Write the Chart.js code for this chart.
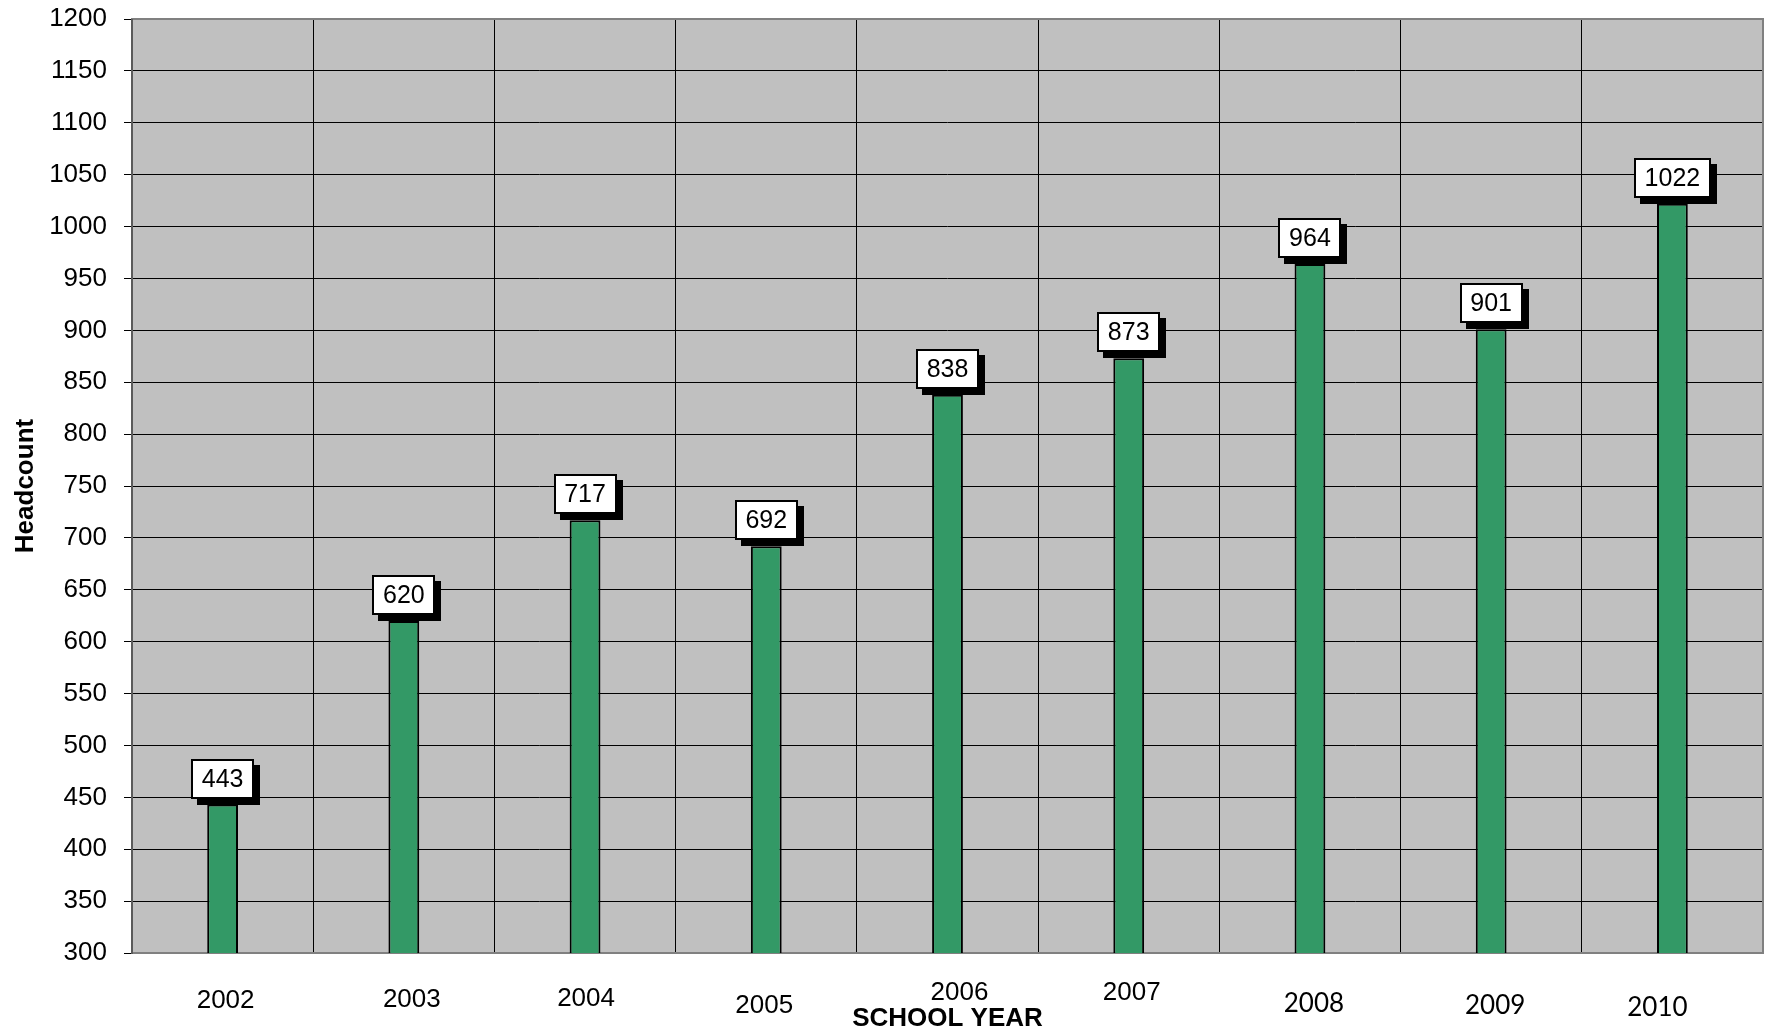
<!DOCTYPE html>
<html>
<head>
<meta charset="utf-8">
<script src="https://cdn.jsdelivr.net/npm/chart.js@4.4.1/dist/chart.umd.min.js"></script>
<style>
html,body{margin:0;padding:0;background:#ffffff;}
#wrap{width:1765px;height:1034px;}
canvas{display:block;}
</style>
</head>
<body>
<div id="wrap"><canvas id="c" width="1765" height="1034"></canvas></div>
<script>
// ---- data ----
const categories = ['2002','2003','2004','2005','2006','2007','2008','2009','2010'];
const headcount = [443, 620, 717, 692, 838, 873, 964, 901, 1022];
const yMin = 300;
const yMax = 1200;
const yStep = 50;
const xTitle = 'SCHOOL YEAR';
const yTitle = 'Headcount';

// ---- style (label nudges as drawn in the original) ----
const yearNudgeX = [3, 8, 1, -2, 12, 3, 4, 4, -15];
const yearBaseline = [55, 54, 53, 60, 47, 47, 59, 61, 63];
const yearFonts = ['arial','arial','arial','arial','arial','arial','lato','lato','lato'];

const ARIAL = '"Liberation Sans", Arial, sans-serif';

const plotBg = {
  id: 'plotBg',
  beforeDraw(chart) {
    const {ctx, chartArea: a} = chart;
    ctx.save();
    ctx.fillStyle = '#C0C0C0';
    ctx.fillRect(a.left, a.top, a.right - a.left, a.bottom - a.top);
    ctx.restore();
  }
};

const plotFrame = {
  id: 'plotFrame',
  beforeDatasetsDraw(chart) {
    const {ctx, chartArea: a} = chart;
    ctx.save();
    ctx.strokeStyle = '#808080';
    ctx.lineWidth = 2;
    ctx.strokeRect(a.left, a.top, a.right - a.left, a.bottom - a.top);
    ctx.strokeStyle = '#5a5a5a';
    ctx.beginPath();
    ctx.moveTo(a.left, a.top);
    ctx.lineTo(a.left, a.bottom + 1);
    ctx.stroke();
    ctx.restore();
  }
};

const valueBoxes = {
  id: 'valueBoxes',
  afterDatasetsDraw(chart) {
    const {ctx} = chart;
    const meta = chart.getDatasetMeta(0);
    ctx.save();
    ctx.font = '25px ' + ARIAL;
    meta.data.forEach((bar, i) => {
      const txt = String(chart.data.datasets[0].data[i]);
      const tw = ctx.measureText(txt).width;
      const w = Math.round(tw + 21);
      const h = 40;
      const x0 = Math.round(bar.x - w / 2);
      const y1 = Math.round(bar.y - 6);
      const y0 = y1 - h;
      ctx.fillStyle = '#000';
      ctx.fillRect(x0 + 6, y0 + 6, w, h);
      ctx.fillStyle = '#fff';
      ctx.fillRect(x0, y0, w, h);
      ctx.lineWidth = 2;
      ctx.strokeStyle = '#000';
      ctx.strokeRect(x0 + 1, y0 + 1, w - 2, h - 2);
      ctx.fillStyle = '#000';
      ctx.textAlign = 'center';
      ctx.textBaseline = 'middle';
      ctx.fillText(txt, bar.x, y0 + h / 2 + 1);
    });
    ctx.restore();
  }
};

const yearLabels = {
  id: 'yearLabels',
  afterDraw(chart) {
    const {ctx, chartArea: a} = chart;
    const xs = chart.scales.x;
    ctx.save();
    ctx.fillStyle = '#000';
    ctx.textAlign = 'center';
    ctx.textBaseline = 'alphabetic';
    chart.data.labels.forEach((lab, i) => {
      ctx.font = yearFonts[i] === 'lato' ? '26px Lato, sans-serif' : '26px ' + ARIAL;
      const x = xs.getPixelForValue(i) + yearNudgeX[i];
      ctx.fillText(lab, x, a.bottom + yearBaseline[i]);
    });
    ctx.restore();
  }
};

new Chart(document.getElementById('c'), {
  type: 'bar',
  data: {
    labels: categories,
    datasets: [{
      label: yTitle,
      data: headcount,
      backgroundColor: '#339966',
      borderColor: '#000000',
      borderWidth: 2,
      borderSkipped: false,
      barPercentage: 0.17,
      categoryPercentage: 1.0
    }]
  },
  options: {
    responsive: false,
    devicePixelRatio: 1,
    animation: false,
    layout: { padding: { left: 0, right: 2, top: 19, bottom: 0 } },
    plugins: {
      legend: { display: false },
      tooltip: { enabled: false },
      title: { display: false }
    },
    scales: {
      x: {
        offset: true,
        grid: {
          display: true,
          offset: true,
          color: '#000000',
          lineWidth: 1,
          drawTicks: false
        },
        border: { display: false },
        ticks: { display: false },
        title: {
          display: true,
          text: xTitle,
          color: '#000',
          font: { family: ARIAL, size: 26, weight: 'bold' },
          padding: { top: 0, bottom: 0 }
        },
        afterFit(scale) { scale.height = 81; scale.paddingLeft = 0; scale.paddingRight = 0; }
      },
      y: {
        min: yMin,
        max: yMax,
        ticks: {
          stepSize: yStep,
          color: '#000',
          font: { family: ARIAL, size: 26 },
          padding: 17,
          callback: (v) => String(v)
        },
        grid: {
          color: '#000000',
          lineWidth: 1,
          drawTicks: true,
          tickLength: 8,
          tickColor: '#000000'
        },
        border: { display: false },
        title: {
          display: true,
          text: yTitle,
          color: '#000',
          font: { family: ARIAL, size: 26, weight: 'bold' },
          padding: { top: 10, bottom: 0 }
        },
        afterFit(scale) { scale.width = 132; scale.paddingTop = 0; scale.paddingBottom = 0; }
      }
    }
  },
  plugins: [plotBg, plotFrame, valueBoxes, yearLabels]
});
</script>
</body>
</html>
